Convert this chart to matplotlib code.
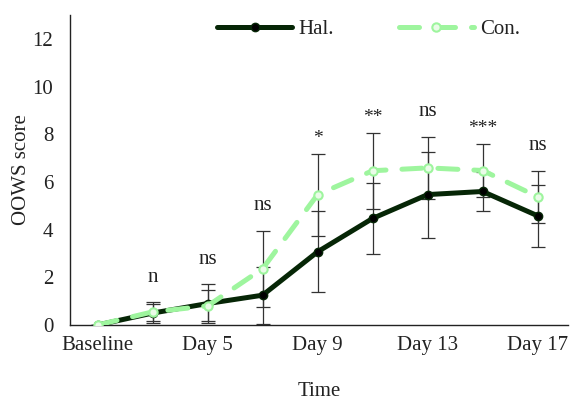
import matplotlib.pyplot as plt
import numpy as np

plt.rcParams["font.family"] = ["Liberation Serif", "DejaVu Serif"]

DAYS = ["Baseline", "Day 3", "Day 5", "Day 7", "Day 9", "Day 11", "Day 13", "Day 15", "Day 17"]
SHOWN = ["Baseline", "Day 5", "Day 9", "Day 13", "Day 17"]

HAL = [0.0, 0.5, 0.9, 1.25, 3.07, 4.47, 5.47, 5.6, 4.58]
HAL_ERR = [0.0, 0.4, 0.8, 1.2, 1.7, 1.5, 1.8, 0.83, 1.3]
CON = [0.0, 0.55, 0.8, 2.36, 5.47, 6.47, 6.59, 6.48, 5.38]
CON_ERR = [0.0, 0.4, 0.65, 1.6, 1.72, 1.6, 1.3, 1.13, 1.1]
SIG = ["", "n", "ns", "ns", "*", "**", "ns", "***", "ns"]

HAL_COLOR = "#062606"
CON_COLOR = "#9ef59e"
TXT = "#222222"


def main() -> None:
    x = np.arange(len(DAYS))
    hal = np.array(HAL)
    con = np.array(CON)
    hal_err = np.array(HAL_ERR)
    con_err = np.array(CON_ERR)

    fig = plt.figure(figsize=(5.71, 4.01), dpi=100)
    ax = fig.add_axes([0.1226, 0.1895, 0.872, 0.773])

    ax.errorbar(x, hal, yerr=hal_err, fmt="none", ecolor="#333333",
                elinewidth=0.9, capsize=5, capthick=0.9, zorder=1)
    ax.errorbar(x, con, yerr=con_err, fmt="none", ecolor="#333333",
                elinewidth=0.9, capsize=5, capthick=0.9, zorder=1)

    ax.plot(x, hal, color=HAL_COLOR, linewidth=3.6, marker="o",
            markersize=6, markerfacecolor="black", markeredgecolor=HAL_COLOR,
            label="Hal.", zorder=3, solid_capstyle="round")
    ax.plot(x, con, color=CON_COLOR, linewidth=3.6, linestyle=(0, (4, 3.2)),
            marker="o", markersize=6, markerfacecolor="#eafbe8",
            markeredgecolor=CON_COLOR, markeredgewidth=1.5,
            label="Con.", zorder=4, dash_capstyle="round")

    tops = np.maximum(hal + hal_err, con + con_err)
    for xi, top, s in zip(x, tops, SIG):
        if not s:
            continue
        off = 0.65 if "*" in s else 1.05
        ax.text(xi, top + off, s, ha="center", va="center",
                fontsize=14 if "*" in s else 15, color=TXT)

    ax.set_xlim(-0.5, 8.55)
    ax.set_ylim(0, 13)
    ax.set_yticks(np.arange(0, 13, 2))
    ax.set_xticks([DAYS.index(d) for d in SHOWN])
    ax.set_xticklabels(SHOWN)
    ax.tick_params(axis="both", length=0, labelsize=15, colors=TXT, pad=8)
    ax.tick_params(axis="y", pad=12)

    ax.set_xlabel("Time", fontsize=15, color=TXT, labelpad=19)
    ax.set_ylabel("OOWS score", fontsize=15, color=TXT, labelpad=1)

    ax.spines["top"].set_visible(False)
    ax.spines["right"].set_visible(False)
    for sp in ("left", "bottom"):
        ax.spines[sp].set_linewidth(1.0)
        ax.spines[sp].set_color(TXT)

    ax.legend(loc="upper center", bbox_to_anchor=(0.6, 1.045), ncol=2,
              frameon=False, fontsize=15, handlelength=3.6,
              columnspacing=3.1, handletextpad=0.3, labelcolor=TXT)

    fig.savefig("out.png", dpi=100)


if __name__ == "__main__":
    main()
